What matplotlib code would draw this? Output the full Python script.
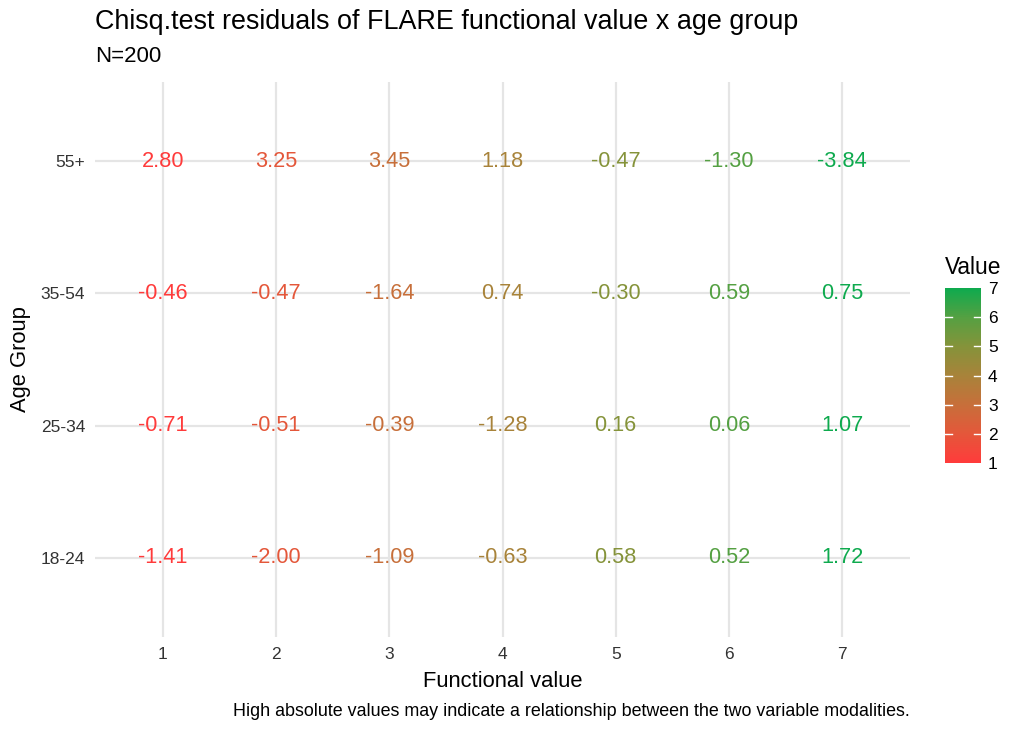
import matplotlib
matplotlib.use("Agg")
import matplotlib.pyplot as plt
import numpy as np
from matplotlib.colors import LinearSegmentedColormap, Normalize
import matplotlib.cm as cm

plt.rcParams['font.family'] = ['Liberation Sans', 'DejaVu Sans']

functional_values = [1, 2, 3, 4, 5, 6, 7]
age_groups = ["18-24", "25-34", "35-54", "55+"]
residuals = {
    "18-24": [-1.41, -2.00, -1.09, -0.63, 0.58, 0.52, 1.72],
    "25-34": [-0.71, -0.51, -0.39, -1.28, 0.16, 0.06, 1.07],
    "35-54": [-0.46, -0.47, -1.64, 0.74, -0.30, 0.59, 0.75],
    "55+":   [2.80, 3.25, 3.45, 1.18, -0.47, -1.30, -3.84],
}

cmap = LinearSegmentedColormap.from_list("rg", [
    (0.0, "#FF3B3B"), (1/6, "#E4573A"), (2/6, "#C76F3A"), (3/6, "#A8833A"),
    (4/6, "#85933A"), (5/6, "#55A042"), (1.0, "#0EAA4E")])
norm = Normalize(1, 7)

fig = plt.figure(figsize=(10.24, 7.31), dpi=100)
ax = fig.add_axes([95/1024, 1-637/731, (910-95)/1024, (637-82)/731])

for yi, grp in enumerate(age_groups):
    for xi, fv in enumerate(functional_values):
        v = residuals[grp][xi]
        ax.text(fv, yi, f"{v:.2f}", ha="center", va="center", fontsize=15.7,
                color=cmap(norm(fv)))

ax.set_xlim(0.4, 7.6)
ax.set_ylim(-0.6, 3.6)
ax.set_xticks(functional_values)
ax.set_xticklabels([str(v) for v in functional_values])
ax.set_yticks(range(len(age_groups)))
ax.set_yticklabels(age_groups)
ax.grid(True, color="#E5E5E5", linewidth=1.6)
ax.set_axisbelow(True)
for s in ax.spines.values():
    s.set_visible(False)
ax.tick_params(length=0, labelsize=12.5, colors="#333333", pad=7)
ax.set_xlabel("Functional value", fontsize=15.8, labelpad=7)
ax.set_ylabel("Age Group", fontsize=15.8, labelpad=7)

fig.text(95/1024, 1-22/731, "Chisq.test residuals of FLARE functional value x age group",
         fontsize=19.4, va="center", ha="left")
fig.text(95/1024, 1-57/731, "N=200", fontsize=16, va="center", ha="left")
fig.text(910/1024, 1-711/731,
         "High absolute values may indicate a relationship between the two variable modalities.",
         fontsize=12.9, va="center", ha="right")

cax = fig.add_axes([945/1024, 1-463/731, 36/1024, (463-288)/731])
sm = cm.ScalarMappable(norm=norm, cmap=cmap)
cb = fig.colorbar(sm, cax=cax)
cb.outline.set_visible(False)
cb.set_ticks([1, 2, 3, 4, 5, 6, 7])
cb.ax.tick_params(length=0, labelsize=12.5, pad=5)
for t in [2, 3, 4, 5, 6]:
    cax.plot([0, 0.2], [t, t], color="white", lw=1, transform=cax.get_yaxis_transform())
    cax.plot([0.8, 1], [t, t], color="white", lw=1, transform=cax.get_yaxis_transform())
fig.text(945/1024, 1-267/731, "Value", fontsize=16.4, va="center", ha="left")

fig.savefig("out.png", dpi=100)
